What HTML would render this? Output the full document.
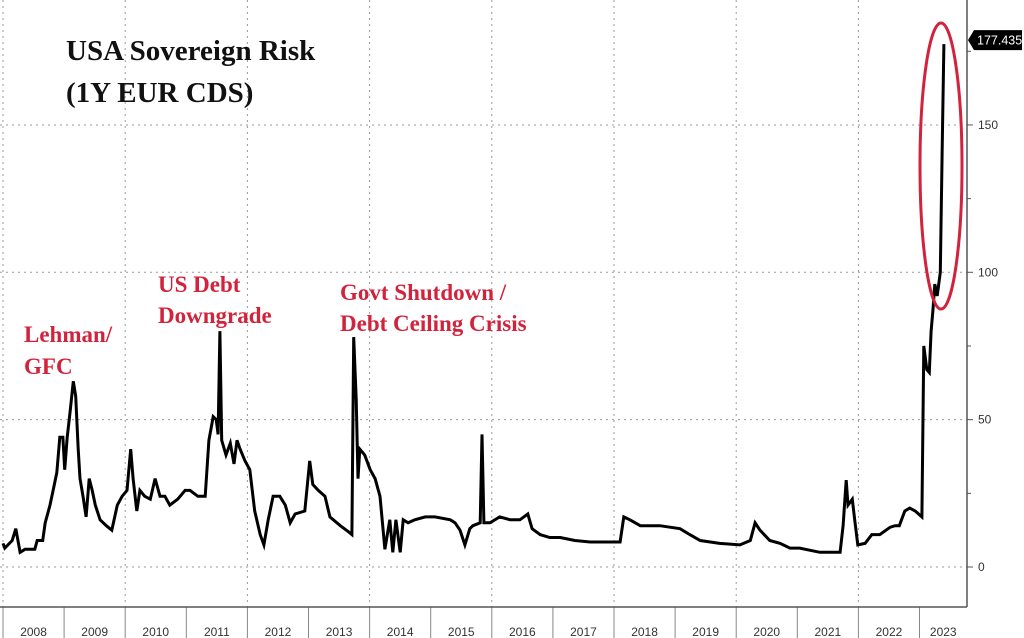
<!DOCTYPE html>
<html><head><meta charset="utf-8"><style>
html,body{margin:0;padding:0;background:#fff;}
svg{display:block;}
</style></head><body>
<svg id="chart" width="1024" height="638" viewBox="0 0 1024 638" xmlns="http://www.w3.org/2000/svg" font-family="Liberation Sans, sans-serif">
<rect width="1024" height="638" fill="#fff"/>
<g id="grid"></g>
<g id="axes"></g>
<path id="line" fill="none" stroke="#000" stroke-width="3" stroke-linejoin="miter"/>
<text x="66" y="60" font-family="Liberation Serif, serif" font-weight="bold" font-size="29" fill="#111">USA Sovereign Risk</text>
<text x="66" y="102" font-family="Liberation Serif, serif" font-weight="bold" font-size="29" fill="#111">(1Y EUR CDS)</text>
<g font-family="Liberation Serif, serif" font-weight="bold" font-size="23" fill="#d2233c">
<text x="24" y="342">Lehman/</text>
<text x="24" y="374">GFC</text>
<text x="158" y="292">US Debt</text>
<text x="158" y="323">Downgrade</text>
<text x="340" y="300">Govt Shutdown /</text>
<text x="340" y="331">Debt Ceiling Crisis</text>
</g>
<ellipse cx="941" cy="166" rx="21" ry="143" fill="none" stroke="#d2233c" stroke-width="3"/>
<g id="lastlabel"></g>
</svg>
<script>
const yearsSince2008 = [0.00,0.03,0.15,0.21,0.28,0.36,0.52,0.56,0.65,0.69,0.77,0.82,0.88,0.93,0.98,1.01,1.05,1.10,1.15,1.19,1.23,1.26,1.31,1.36,1.41,1.46,1.51,1.59,1.69,1.78,1.87,1.95,2.03,2.09,2.13,2.19,2.24,2.32,2.41,2.49,2.57,2.65,2.73,2.86,2.98,3.06,3.19,3.31,3.37,3.44,3.49,3.52,3.55,3.58,3.65,3.72,3.78,3.83,3.88,3.96,4.04,4.12,4.21,4.27,4.34,4.42,4.53,4.62,4.70,4.78,4.94,5.02,5.07,5.16,5.27,5.35,5.52,5.65,5.71,5.74,5.78,5.81,5.84,5.92,6.01,6.09,6.17,6.25,6.33,6.38,6.43,6.50,6.55,6.63,6.74,6.91,7.07,7.32,7.40,7.48,7.56,7.64,7.69,7.81,7.84,7.87,7.97,8.13,8.30,8.46,8.59,8.66,8.79,8.95,9.12,9.36,9.61,9.93,10.10,10.16,10.26,10.43,10.75,11.08,11.24,11.41,11.73,12.06,12.23,12.31,12.39,12.55,12.72,12.88,13.04,13.37,13.70,13.75,13.80,13.83,13.90,13.94,13.99,14.11,14.22,14.35,14.52,14.60,14.67,14.76,14.84,14.93,15.04,15.07,15.12,15.16,15.19,15.22,15.25,15.29,15.34,15.37,15.40];
const cdsValues = [8,6.4,9,13,5,6,6,9,9,15,21,26,32,44,44,33,44,53,63,58,40,30,24,17,30,26,21,16,14,12.5,21,24,26,40,30,19,26,24,23,30,24,24,21,23,26,26,24,24,43,51,50,45,80,43,38,42,35,43,40,36,33,19,11,7.5,16,24,24,21,15,18,19,36,28,26,24,17,14,12,11,78,57,30,40,38,33,30,24,6,16,5,16,5,16,15,16,17,17,16,15,12.5,7.5,13,14,15,45,15,15,17,16,16,18,13,11,10,10,9,8.5,8.5,8.5,17,16,14,14,13,11,9,8,7.5,9,15,12.5,9,8,6.4,6.4,5,5,14,29.5,21,23,16,7.5,8,11,11,13.5,14,14,19,20,19,17,75,67,66,80,87,96,92,100,140,177.435];
const yTicks = [0,50,100,150];
const yearLabels = ["2008","2009","2010","2011","2012","2013","2014","2015","2016","2017","2018","2019","2020","2021","2022","2023"];
const lastValueText = "177.435";

const NS = "http://www.w3.org/2000/svg";
const PR = 967, AXY = 607;
function xScale(t){ return 3 + t*61.1; }
function yScale(v){ return 567 - v*2.947; }
function mk(tag, attrs, parent){ const e=document.createElementNS(NS,tag); for(const k in attrs) e.setAttribute(k,attrs[k]); parent.appendChild(e); return e; }
const grid=document.getElementById('grid'), axes=document.getElementById('axes');
yTicks.forEach(v=>{
  const g=mk('line',{x1:0,x2:PR,y1:yScale(v),y2:yScale(v),stroke:'#999','stroke-width':1,'stroke-dasharray':'2,4'},grid);
  
  
  const t=mk('line',{x1:PR,x2:PR+6,y1:yScale(v),y2:yScale(v),stroke:'#555','stroke-width':1},axes);
  
  
  const l=mk('text',{x:PR+11,y:yScale(v)+4,'font-size':12,fill:'#333'},axes);
  l.textContent=String(v);
  
  
});
for(let v=25; v<=175; v+=50){
  const t=mk('line',{x1:PR,x2:PR+4,y1:yScale(v),y2:yScale(v),stroke:'#555','stroke-width':1},axes);
  
  
}
yearLabels.forEach((y,i)=>{
  const x0=xScale(i), x1=Math.min(xScale(i+1),PR);
  if(i%2===0){
    const g=mk('line',{x1:x0,x2:x0,y1:0,y2:AXY,stroke:'#999','stroke-width':1,'stroke-dasharray':'2,4'},grid);
    
    
  }
  const s=mk('line',{x1:x0,x2:x0,y1:AXY,y2:638,stroke:'#888','stroke-width':1},axes);
  
  
  const l=mk('text',{x:(x0+x1)/2,y:636,'font-size':12,fill:'#333','text-anchor':'middle'},axes);
  l.textContent=y;
  
  
});
const ax=mk('line',{x1:0,x2:PR,y1:AXY,y2:AXY,stroke:'#555','stroke-width':1.5},axes);


const ay=mk('line',{x1:PR,x2:PR,y1:0,y2:AXY,stroke:'#555','stroke-width':1.5},axes);



let d='';
yearsSince2008.forEach((t,i)=>{ d+=(i?'L':'M')+xScale(t).toFixed(1)+','+yScale(cdsValues[i]).toFixed(1); });
document.getElementById('line').setAttribute('d',d);

const lv=cdsValues[cdsValues.length-1], ly=yScale(lv)-4;
const ll=document.getElementById('lastlabel');
const box=mk('path',{d:`M${PR+1},${ly} L${PR+7},${ly-10} L1022,${ly-10} L1022,${ly+10} L${PR+7},${ly+10} Z`,fill:'#000'},ll);


const lt=mk('text',{x:PR+10,y:ly+4.5,'font-size':12.5,fill:'#fff'},ll);
lt.textContent=lastValueText;


</script>
</body></html>
